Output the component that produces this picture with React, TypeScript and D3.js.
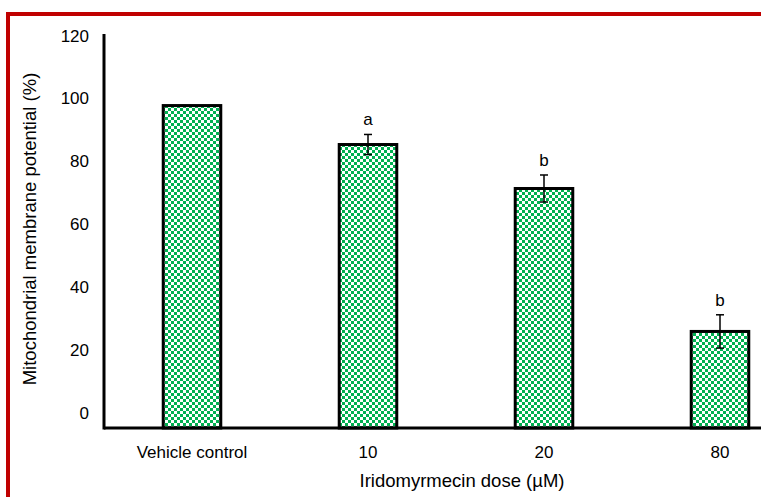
import React from "react";
import { scaleBand, scaleLinear } from "d3";

const categories = ["Vehicle control", "10", "20", "80"];
const values = [97.7, 85.3, 71.3, 25.8];
const errors = [0, 3.2, 4.3, 5.3];
const letters = ["", "a", "b", "b"];
const yTicks = [0, 20, 40, 60, 80, 100, 120];

const W = 761;
const H = 497;
const axisX = 104;
const axisY = 428;
const font = "'Liberation Sans', Arial, sans-serif";

const x = scaleBand<string>()
  .domain(categories)
  .range([axisX, axisX + 704])
  .paddingInner(0.673)
  .paddingOuter(0.3365);

// tick labels sit a bit above their true spot in the source, bars follow the labels
const y = scaleLinear().domain([0, 120]).range([412.5, 35.5]);

export default function App() {
  return (
    <div style={{ position: "fixed", left: 0, top: 0 }}>
      <svg width={W} height={H} style={{ display: "block", background: "#fff" }}>
        <defs>
          <pattern id="checker" width={6} height={6} patternUnits="userSpaceOnUse">
            <rect width={6} height={6} fill="#fff" />
            <rect width={3} height={3} fill="#00b050" />
            <rect x={3} y={3} width={3} height={3} fill="#00b050" />
          </pattern>
        </defs>

        <rect x={8} y={14} width={W + 20} height={H + 20} fill="none" stroke="#c00000" strokeWidth={4} />

        {categories.map((c, i) => {
          const x0 = x(c)!;
          const cx = x0 + x.bandwidth() / 2;
          const top = y(values[i]);
          const e = errors[i];
          return (
            <g key={c}>
              <rect
                x={x0}
                y={top}
                width={x.bandwidth()}
                height={axisY - top}
                fill="url(#checker)"
                stroke="#000"
                strokeWidth={3}
              />
              {e > 0 && (
                <g stroke="#000" strokeWidth={1.5}>
                  <line x1={cx} x2={cx} y1={y(values[i] + e)} y2={y(values[i] - e)} />
                  <line x1={cx - 4} x2={cx + 4} y1={y(values[i] + e)} y2={y(values[i] + e)} />
                  <line x1={cx - 4} x2={cx + 4} y1={y(values[i] - e)} y2={y(values[i] - e)} />
                </g>
              )}
              {letters[i] && (
                <text
                  x={cx}
                  y={y(values[i] + e) - 9}
                  textAnchor="middle"
                  fontFamily={font}
                  fontSize={17}
                  fill="#000"
                >
                  {letters[i]}
                </text>
              )}
              <text x={cx} y={458} textAnchor="middle" fontFamily={font} fontSize={17} fill="#000">
                {c}
              </text>
            </g>
          );
        })}

        <line x1={axisX} x2={W} y1={axisY} y2={axisY} stroke="#000" strokeWidth={3} />
        <line x1={axisX} x2={axisX} y1={y(120) - 1.5} y2={axisY + 1.5} stroke="#000" strokeWidth={3} />

        {yTicks.map((t) => (
          <text
            key={t}
            x={89}
            y={y(t)}
            dy="0.36em"
            textAnchor="end"
            fontFamily={font}
            fontSize={17}
            fill="#000"
          >
            {t}
          </text>
        ))}

        <text
          transform={`translate(36,229) rotate(-90)`}
          textAnchor="middle"
          fontFamily={font}
          fontSize={18.5}
          fill="#000"
        >
          Mitochondrial membrane potential (%)
        </text>
        <text x={462} y={487} textAnchor="middle" fontFamily={font} fontSize={18.5} fill="#000">
          Iridomyrmecin dose (µM)
        </text>
      </svg>
    </div>
  );
}
